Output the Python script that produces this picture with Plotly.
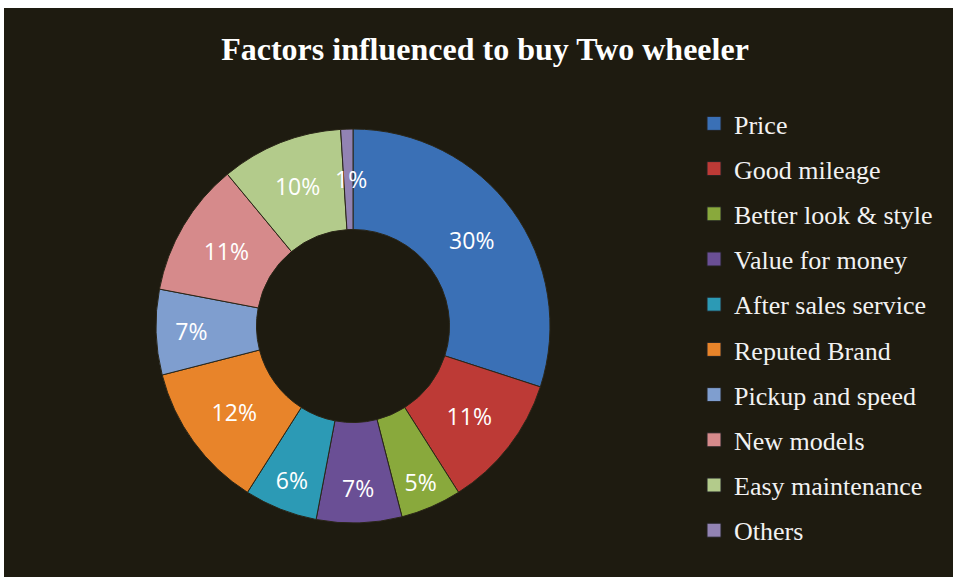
import math
import plotly.graph_objects as go

W, H = 955, 577

categories = ["Price", "Good mileage", "Better look & style", "Value for money",
              "After sales service", "Reputed Brand", "Pickup and speed",
              "New models", "Easy maintenance", "Others"]
shares = [30, 11, 5, 7, 6, 12, 7, 11, 10, 1]
colors = ["#3a70b6", "#bd3a36", "#89a93c", "#6a4f95", "#2c9ab5",
          "#e8842a", "#7f9ecf", "#d68a8b", "#b3cb8b", "#9283b3"]

BG = "#1e1b10"
HOLE = 0.49
# pie domain in pixels (left, right, top, bottom)
PX0, PX1, PY0, PY1 = 156, 550, 128, 524

total = sum(shares)
# slices too thin for Plotly's inside text: label them with an overflowing annotation
small = [s / total < 0.02 for s in shares]
positions = ["none" if sm else "inside" for sm in small]

fig = go.Figure()

fig.add_trace(go.Pie(
    labels=categories,
    values=shares,
    marker=dict(colors=colors, line=dict(color="#2a2618", width=1)),
    hole=HOLE,
    sort=False,
    direction="clockwise",
    rotation=0,
    textinfo="percent",
    texttemplate="%{percent:.0%}",
    textposition=positions,
    insidetextorientation="horizontal",
    textfont=dict(family="Open Sans", size=23, color="white"),
    showlegend=False,
    domain=dict(x=[PX0 / W, PX1 / W], y=[1 - PY1 / H, 1 - PY0 / H]),
))

annotations = []
cx, cy = (PX0 + PX1) / 2, (PY0 + PY1) / 2
R = (PX1 - PX0) / 2
rmid = R * (1 + HOLE) / 2
cum = 0
for s, sm in zip(shares, small):
    if sm:
        ang = 2 * math.pi * (cum + s / 2) / total
        x = cx + rmid * math.sin(ang) + 3
        y = cy - rmid * math.cos(ang)
        annotations.append(dict(
            x=x / W, y=1 - y / H, xref="paper", yref="paper",
            text=f"{round(100 * s / total)}%", showarrow=False,
            xanchor="center", yanchor="middle",
            font=dict(family="Open Sans", size=23, color="white")))
    cum += s

# legend entries (one per category, each in its own group for spacing)
for name, col in zip(categories, colors):
    fig.add_trace(go.Scatter(
        x=[None], y=[None], mode="markers", name=name,
        legendgroup=name,
        marker=dict(symbol="square", size=14, color=col,
                    line=dict(color="#222", width=1)),
        hoverinfo="skip",
    ))

fig.update_layout(
    width=W, height=H,
    margin=dict(l=0, r=0, t=0, b=0),
    paper_bgcolor="white",
    plot_bgcolor="rgba(0,0,0,0)",
    xaxis=dict(visible=False),
    yaxis=dict(visible=False),
    title=dict(text="<b>Factors influenced to buy Two wheeler</b>",
               x=485 / W, xanchor="center", y=1 - 49 / H, yanchor="middle",
               font=dict(family="Liberation Serif", size=32, color="white")),
    legend=dict(x=694 / W, xanchor="left", y=1 - 100 / H, yanchor="top",
                font=dict(family="Liberation Serif", size=26, color="#f2f2f2"),
                bgcolor="rgba(0,0,0,0)", tracegroupgap=8.4,
                itemclick=False, itemdoubleclick=False),
    annotations=annotations,
    shapes=[dict(type="rect", xref="paper", yref="paper",
                 x0=4 / W, x1=953 / W, y0=0, y1=1 - 8 / H,
                 fillcolor=BG, line=dict(width=0), layer="below")],
)

fig.write_html("out.html")
